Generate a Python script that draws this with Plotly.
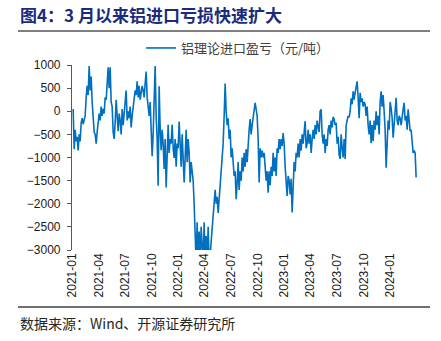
import pandas as pd
import plotly.graph_objects as go

# 铝理论进口盈亏（元/吨），按时间顺序排列
profit_values = [
    50, -820, -400, -650, -550, -850, -500, -650, -250, -150,
    -280, -200, -100, 300, 550, 350, 980, 450, 750, 200,
    -250, -450, -500, -700, -450, -300, -50, -200, 100, -100,
    50, -50, 300, 250, 700, 950, 500, 950, 200, 100,
    -450, -600, -250, 250, -100, -430, -50, -200, -500, 50,
    -300, 100, 200, 450, -200, 0, -150, 100, -350, -100,
    50, 300, 450, 350, 650, 300, 550, 250, 400, 550,
    450, 300, 600, 860, 300, 0, -100, 200, -400, -970,
    -500, 200, 980, -100, -600, -1610, 540, -380, -840, -400,
    -700, -1250, -600, -1650, -750, -290, -900, -600, -700, -290,
    -800, -1010, -600, -1200, -700, -800, -220, -950, -1200, -500,
    -900, -1540, -1000, -400, -1100, -600, -900, -1540, -1100, -1300,
    -1500, -2000, -2500, -3300, -2400, -3300, -2600, -3300, -2500, -3200,
    -3300, -2400, -3300, -2700, -3300, -2500, -3300, -3100, -2800, -2500,
    -2300, -2000, -1700, -2000, -1850, -2200, -1900, -1500, -1300, -1000,
    -700, -100, 600, 0, -300, -150, -600, -400, -1000, -800,
    -1250, -1400, -1300, -1900, -1550, -1100, -1700, -1300, -1500, -1000,
    -1300, -900, -1200, -820, -1100, -600, -400, -170, -500, -300,
    -100, 50, 180, 40, -100, -600, -1540, -800, -1000, -850,
    -1000, -900, -1200, -1500, -1300, -1760, -1300, -1600, -1200, -1400,
    -900, -1300, -1000, -1400, -800, -900, -600, -820, -600, -750,
    -470, -700, -1200, -1500, -1830, -1400, -1500, -1800, -1460, -2190,
    -1500, -1100, -1300, -900, -1000, -700, -1000, -600, -850, -500,
    -700, -400, -215, -800, -700, -400, -700, -500, -900, -600,
    -400, -600, -300, -500, -200, -350, -450, 0, 40, -500,
    -700, -500, -900, -600, -750, -400, -300, -500, -200, -350,
    -120, -170, -300, -250, -700, -550, -950, -1030, -500, -800,
    -1000, -600, -1030, -300, -200, -100, -130, 0, 280, 150,
    430, 250, 400, 500, 645, 300, -150, 400, 200, 280,
    100, 200, 150, -100, 100, -300, -500, -200, -690, -300,
    -650, -200, -400, 0, -300, -100, -500, 200, 430, 100,
    350, 0, -400, -1220, -500, -200, -400, 200, 70, -140,
    -570, -200, 0, 290, -200, -300, -100, -150, -300, -50,
    40, 180, -200, -100, -400, 40, -200, -430, -400, -650,
    -900, -850, -900, -1430,
]
first_date = "2021-01-03"
last_date = "2024-03-30"
dates = pd.date_range(first_date, last_date, periods=len(profit_values))

# quarterly date labels along the bottom
x_tick_dates = [
    "2021-01-01", "2021-04-01", "2021-07-01", "2021-10-01",
    "2022-01-01", "2022-04-01", "2022-07-01", "2022-10-01",
    "2023-01-01", "2023-04-01", "2023-07-01", "2023-10-01",
    "2024-01-01",
]
x_tick_labels = [d[:7] for d in x_tick_dates]

series_name = "铝理论进口盈亏（元/吨）"
title_text = "图4：3 月以来铝进口亏损快速扩大"
source_text = "数据来源：Wind、开源证券研究所"

y_min, y_max, y_step = -3000, 1000, 500
x_start, x_end = "2020-12-30", "2024-04-02"

# page geometry
W, H = 441, 341
M_L, M_R, M_T, M_B = 72, 24, 65, 91
plot_w = W - M_L - M_R
plot_h = H - M_T - M_B


def px_x(px):
    return (px - M_L) / plot_w


def px_y(py):
    return (H - M_B - py) / plot_h


CJK = "Noto Sans CJK SC"
LATIN = "Liberation Sans, Arial, sans-serif"
LINE_BLUE = "#0070C0"
AXIS_GREY = "#595959"

fig = go.Figure()
fig.add_trace(go.Scatter(
    x=dates, y=profit_values, mode="lines", name=series_name,
    line=dict(color=LINE_BLUE, width=1.6),
))

zero_pos = (0 - y_min) / (y_max - y_min)

fig.update_layout(
    width=W, height=H,
    margin=dict(l=M_L, r=M_R, t=M_T, b=M_B),
    paper_bgcolor="white", plot_bgcolor="white",
    showlegend=True,
    legend=dict(
        orientation="h", x=px_x(141), y=px_y(48),
        xanchor="left", yanchor="middle",
        font=dict(family=CJK, size=13, color="#404040"),
        bgcolor="rgba(0,0,0,0)", itemwidth=30,
    ),
    title=dict(
        text=title_text, xref="container", yref="container",
        x=20 / W, y=1 - 16 / H, xanchor="left", yanchor="middle",
        font=dict(family=CJK, size=17, color="#1a2b7c", weight="bold"),
    ),
    xaxis=dict(
        range=[x_start, x_end], type="date",
        tickvals=x_tick_dates, ticktext=x_tick_labels,
        tickangle=-90, showgrid=False, showline=False, zeroline=False,
        ticks="", tickfont=dict(family=LATIN, size=12, color="#1a1a1a"),
    ),
    xaxis2=dict(
        overlaying="x", matches="x", anchor="free", position=zero_pos,
        type="date", tickvals=x_tick_dates,
        showticklabels=False, showgrid=False, zeroline=False,
        showline=True, linecolor=AXIS_GREY, linewidth=1.5,
        ticks="inside", ticklen=3, tickcolor=AXIS_GREY, tickwidth=1,
        layer="above traces",
    ),
    yaxis=dict(
        range=[y_min, y_max], dtick=y_step, tick0=0,
        showgrid=False, zeroline=False,
        showline=True, linecolor=AXIS_GREY, linewidth=1.2,
        ticks="outside", ticklen=4, tickcolor=AXIS_GREY,
        ticklabelstandoff=4,
        tickfont=dict(family=LATIN, size=12, color="#1a1a1a"),
    ),
    shapes=[
        dict(type="line", xref="paper", yref="paper",
             x0=px_x(18), x1=px_x(430), y0=px_y(31), y1=px_y(31),
             line=dict(color="#7f7f7f", width=2)),
        dict(type="line", xref="paper", yref="paper",
             x0=px_x(18), x1=px_x(430), y0=px_y(307), y1=px_y(307),
             line=dict(color="#404040", width=1.5)),
    ],
    annotations=[
        dict(text=source_text, xref="paper", yref="paper",
             x=px_x(18), y=px_y(323), xanchor="left", yanchor="middle",
             showarrow=False,
             font=dict(family=CJK, size=14, color="#262626")),
    ],
)

fig.write_html("out.html")
